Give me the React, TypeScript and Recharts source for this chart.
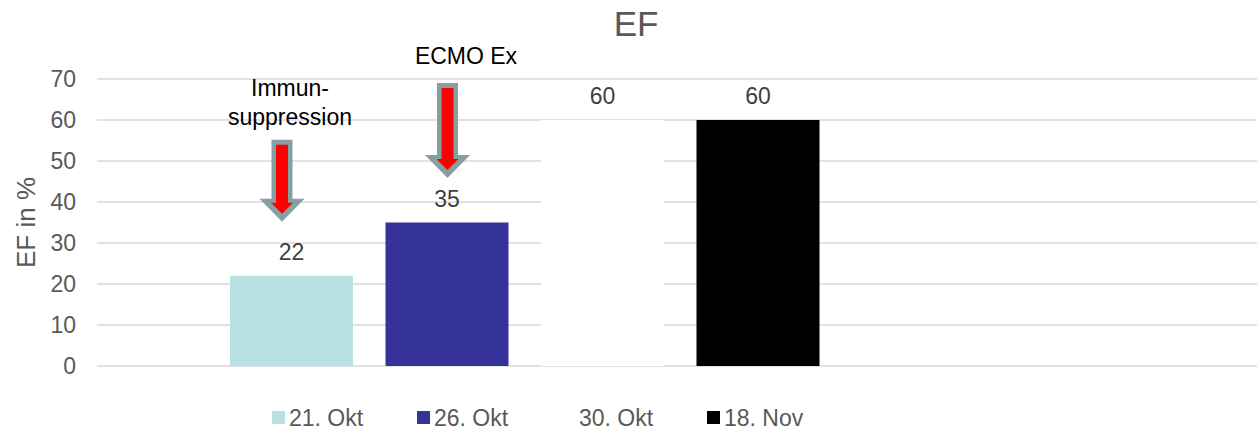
import React from 'react';
import { BarChart, Bar, XAxis, YAxis, CartesianGrid, LabelList, Label } from 'recharts';

const chartTitle = 'EF';
const yAxisTitle = 'EF in %';
const category = 'EF';
const seriesNames = ['21. Okt', '26. Okt', '30. Okt', '18. Nov'];
const seriesValues = [22, 35, 60, 60];
const yTicks = [0, 10, 20, 30, 40, 50, 60, 70];
const annotationSeries = ['21. Okt', '26. Okt'];
const annotationLines = [['Immun-', 'suppression'], ['ECMO Ex']];

const seriesColors = ['#B9E0E3', '#353399', '#FFFFFF', '#000000'];
const FONT = '"Liberation Sans", Arial, sans-serif';
const TEXT = '#595959';

const data = [
  Object.fromEntries([['name', category], ...seriesNames.map((s, i) => [s, seriesValues[i]])]),
];

// arrow + text placement relative to the bar it points at
const annotationLayout = [
  { arrowDx: 52, tipDy: -54, length: 82, textX: 60, textDy: -180 },
  { arrowDx: 62, tipDy: -44.5, length: 95, textX: 80.5, textDy: -158.5 },
];

const pts = (arr: number[][]) => arr.map((p) => p.join(',')).join(' ');

const Arrow = ({ cx, tip, top }: { cx: number; tip: number; top: number }) => (
  <g>
    <polygon
      fill="#869FA2"
      points={pts([
        [cx - 10.5, top], [cx + 10.5, top], [cx + 10.5, tip - 23], [cx + 22.5, tip - 23],
        [cx, tip], [cx - 22.5, tip - 23], [cx - 10.5, tip - 23],
      ])}
    />
    <polygon
      fill="#FF0000"
      points={pts([
        [cx - 6, top + 5], [cx + 6, top + 5], [cx + 6, tip - 19], [cx + 11, tip - 19],
        [cx, tip - 8], [cx - 11, tip - 19], [cx - 6, tip - 19],
      ])}
    />
  </g>
);

const makeAnnotation = (idx: number) => (props: any) => {
  const { x, y } = props;
  const l = annotationLayout[idx];
  const tip = y + l.tipDy;
  const lines = annotationLines[idx];
  return (
    <g>
      <Arrow cx={x + l.arrowDx} tip={tip} top={tip - l.length} />
      {lines.map((t, i) => (
        <text
          key={i}
          x={x + l.textX}
          y={y + l.textDy + i * 29}
          textAnchor="middle"
          fontFamily={FONT}
          fontSize={23}
          fill="#000000"
        >
          {t}
        </text>
      ))}
    </g>
  );
};

export default function App() {
  return (
    <div style={{ position: 'absolute', left: 0, top: 0, width: 1257, height: 430, background: '#fff', fontFamily: FONT }}>
      <BarChart
        width={1257}
        height={430}
        data={data}
        margin={{ top: 79, right: 0, bottom: 64, left: 0 }}
        barSize={123}
        barGap={32.5}
      >
        <CartesianGrid vertical={false} stroke="#D9D9D9" strokeWidth={1.5} />
        <XAxis dataKey="name" height={0} tick={false} axisLine={false} tickLine={false} padding={{ left: 0, right: 304 }} />
        <YAxis
          width={97}
          domain={[0, 70]}
          ticks={yTicks}
          axisLine={false}
          tickLine={false}
          tickSize={0}
          tickMargin={21}
          tick={{ fill: TEXT, fontSize: 23, fontFamily: FONT }}
        >
          <Label value={yAxisTitle} angle={-90} position="center" dx={-23} fill={TEXT} fontSize={26} fontFamily={FONT} />
        </YAxis>
        {seriesNames.map((s, i) => {
          const ai = annotationSeries.indexOf(s);
          return (
            <Bar key={s} dataKey={s} fill={seriesColors[i]} isAnimationActive={false}>
              <LabelList dataKey={s} position="top" offset={16} fill="#404040" fontSize={23} fontFamily={FONT} />
              {ai >= 0 && <LabelList dataKey={s} content={makeAnnotation(ai)} />}
            </Bar>
          );
        })}
      </BarChart>
      <svg width={1257} height={430} style={{ position: 'absolute', left: 0, top: 0, pointerEvents: 'none' }}>
        <text x={636} y={36} textAnchor="middle" fontFamily={FONT} fontSize={35} fill={TEXT}>
          {chartTitle}
        </text>
        {seriesNames.map((s, i) => (
          <g key={s} transform={`translate(${272 + i * 145},0)`}>
            <rect x={0} y={411} width={13} height={13} fill={seriesColors[i]} />
            <text x={17} y={426} fontFamily={FONT} fontSize={23} fill={TEXT}>
              {s}
            </text>
          </g>
        ))}
      </svg>
    </div>
  );
}
